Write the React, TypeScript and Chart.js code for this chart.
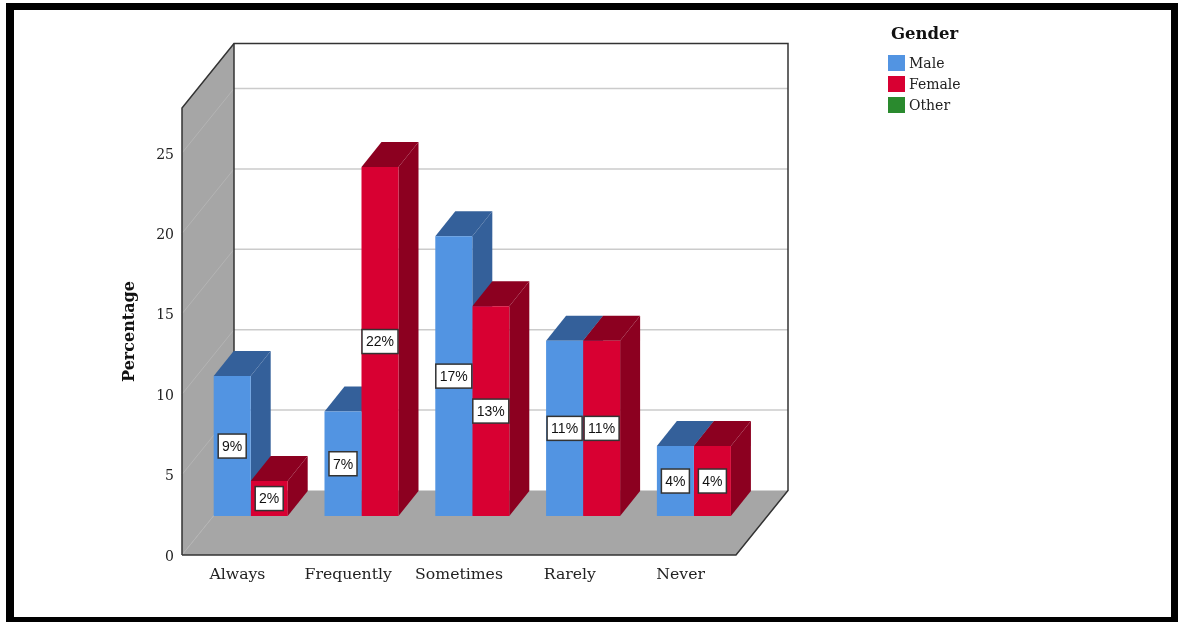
import React, { useEffect, useRef } from "react";
import { Chart, registerables } from "chart.js";

Chart.register(...registerables);

const categories = ["Always", "Frequently", "Sometimes", "Rarely", "Never"];
const maleValues = [8.7, 6.5, 17.4, 10.9, 4.35];
const femaleValues = [2.17, 21.7, 13.05, 10.9, 4.35];
const legendTitle = "Gender";
const legendNames = ["Male", "Female", "Other"];
const legendColors = ["#5294e2", "#d80032", "#2a8a2e"];
const sideColors = ["#34609a", "#8c0020"];
const axisTitle = "Percentage";
const yMax = 27.8;

const FONT = '"DejaVu Serif", serif';
const WALL = { dx: 52, dy: -64.5 };
const BAR = { dx: 20, dy: -25 };
const SHIFT = { dx: 13.3, dy: -39 };
const INK = "#333333";

function poly(ctx: CanvasRenderingContext2D, pts: number[][], fill: string) {
  ctx.beginPath();
  pts.forEach(([x, y], i) => (i ? ctx.lineTo(x, y) : ctx.moveTo(x, y)));
  ctx.closePath();
  ctx.fillStyle = fill;
  ctx.fill();
}

function line(ctx: CanvasRenderingContext2D, pts: number[][], color: string, width: number) {
  ctx.beginPath();
  pts.forEach(([x, y], i) => (i ? ctx.lineTo(x, y) : ctx.moveTo(x, y)));
  ctx.strokeStyle = color;
  ctx.lineWidth = width;
  ctx.stroke();
}

// Picture frame, box walls and floor, plus the top and side faces of each bar.
const boxPlugin = {
  id: "box3d",
  beforeDraw(chart: any) {
    const { ctx } = chart;
    ctx.save();
    ctx.fillStyle = "#000";
    ctx.fillRect(6, 3, 1172, 619);
    ctx.fillStyle = "#fff";
    ctx.fillRect(14, 10, 1157, 607);
    ctx.restore();
  },
  beforeDatasetsDraw(chart: any) {
    const { ctx, chartArea: a, scales } = chart;
    const { left: l, right: r, top: t, bottom: b } = a;
    ctx.save();

    poly(ctx, [[l, t], [l + WALL.dx, t + WALL.dy], [l + WALL.dx, b + WALL.dy], [l, b]], "#a6a6a6");
    poly(ctx, [[l, b], [r, b], [r + WALL.dx, b + WALL.dy], [l + WALL.dx, b + WALL.dy]], "#a6a6a6");

    for (const tick of scales.y.ticks) {
      if (tick.value === 0) continue;
      const y = scales.y.getPixelForValue(tick.value);
      line(ctx, [[l + WALL.dx, y + WALL.dy], [r + WALL.dx, y + WALL.dy]], "#cbcbcb", 1.5);
      line(ctx, [[l, y], [l + WALL.dx, y + WALL.dy]], "#b4b4b4", 1);
    }
    line(ctx, [[l, b], [l + WALL.dx, b + WALL.dy]], "#b4b4b4", 1);

    line(ctx, [[l, b], [l, t], [l + WALL.dx, t + WALL.dy], [r + WALL.dx, t + WALL.dy], [r + WALL.dx, b + WALL.dy], [r, b], [l, b]], INK, 1.5);
    line(ctx, [[l + WALL.dx, t + WALL.dy], [l + WALL.dx, b + WALL.dy]], INK, 1.5);

    // Faces are painted series by series so a neighbour's front face hides what it should.
    categories.forEach((_, i) => {
      [0, 1].forEach((ds) => {
        const el = chart.getDatasetMeta(ds).data[i];
        const half = el.width / 2;
        const x0 = el.x - half + SHIFT.dx;
        const x1 = el.x + half + SHIFT.dx;
        const top = el.y + SHIFT.dy;
        const base = el.base + SHIFT.dy;
        poly(ctx, [[x0, top], [x1, top], [x1 + BAR.dx, top + BAR.dy], [x0 + BAR.dx, top + BAR.dy]], sideColors[ds]);
        poly(ctx, [[x1, top], [x1 + BAR.dx, top + BAR.dy], [x1 + BAR.dx, base + BAR.dy], [x1, base]], sideColors[ds]);
      });
    });
    ctx.restore();
  },
  beforeDatasetDraw(chart: any) {
    chart.ctx.save();
    chart.ctx.translate(SHIFT.dx, SHIFT.dy);
  },
  afterDatasetDraw(chart: any) {
    chart.ctx.restore();
  },
  afterDatasetsDraw(chart: any) {
    const { ctx } = chart;
    ctx.save();
    ctx.font = '14px "Liberation Sans", sans-serif';
    ctx.textAlign = "center";
    ctx.textBaseline = "middle";
    [0, 1].forEach((ds) => {
      const values = chart.data.datasets[ds].data as number[];
      chart.getDatasetMeta(ds).data.forEach((el: any, i: number) => {
        const cx = el.x + SHIFT.dx;
        const cy = (el.y + el.base) / 2 + SHIFT.dy;
        const text = `${Math.round(values[i])}%`;
        const w = Math.round(ctx.measureText(text).width) + 8;
        ctx.fillStyle = "#fff";
        ctx.fillRect(cx - w / 2, cy - 12, w, 24);
        ctx.strokeStyle = INK;
        ctx.lineWidth = 1.5;
        ctx.strokeRect(cx - w / 2, cy - 12, w, 24);
        ctx.fillStyle = "#111";
        ctx.fillText(text, cx, cy + 1);
      });
    });
    ctx.restore();
  },
  afterDraw(chart: any) {
    const { ctx } = chart;
    ctx.save();
    ctx.textBaseline = "middle";
    ctx.fillStyle = "#111";
    ctx.font = `bold 16.5px ${FONT}`;
    ctx.fillText(legendTitle, 891, 35);
    ctx.font = `14px ${FONT}`;
    legendNames.forEach((name, i) => {
      const y = 63 + i * 21;
      ctx.fillStyle = legendColors[i];
      ctx.fillRect(888, y - 8, 17, 16);
      ctx.fillStyle = "#222";
      ctx.fillText(name, 909, y + 1);
    });
    ctx.restore();
  },
};

export default function App() {
  const ref = useRef<HTMLCanvasElement>(null);

  useEffect(() => {
    const chart = new Chart(ref.current!, {
      type: "bar",
      data: {
        labels: categories,
        datasets: [
          { label: legendNames[0], data: maleValues, backgroundColor: legendColors[0], clip: false },
          { label: legendNames[1], data: femaleValues, backgroundColor: legendColors[1], clip: false },
        ],
      },
      options: {
        responsive: false,
        animation: false,
        layout: { padding: { left: 0, right: 444, top: 108, bottom: 0 } },
        datasets: { bar: { categoryPercentage: 0.668, barPercentage: 1, borderWidth: 0 } },
        plugins: { legend: { display: false }, title: { display: false }, tooltip: { enabled: false } },
        scales: {
          x: {
            grid: { display: false },
            border: { display: false },
            afterFit: (s: any) => { s.height = 67; },
            ticks: { color: "#222", padding: 3, maxRotation: 0, font: { family: FONT, size: 15.7 } },
          },
          y: {
            min: 0,
            max: yMax,
            grid: { display: false },
            border: { display: false },
            afterFit: (s: any) => { s.width = 182; },
            ticks: { stepSize: 5, includeBounds: false, color: "#222", padding: 0, labelOffset: 2, font: { family: FONT, size: 14 } },
            title: {
              display: true,
              text: axisTitle,
              color: "#111",
              padding: { top: 120, bottom: 0 },
              font: { family: FONT, size: 16, weight: "bold" },
            },
          },
        },
      },
      plugins: [boxPlugin],
    } as any);
    return () => chart.destroy();
  }, []);

  return (
    <div style={{ position: "absolute", left: 0, top: 0, width: 1180, height: 622, background: "#fff" }}>
      <canvas ref={ref} width={1180} height={622} style={{ display: "block" }} />
    </div>
  );
}
